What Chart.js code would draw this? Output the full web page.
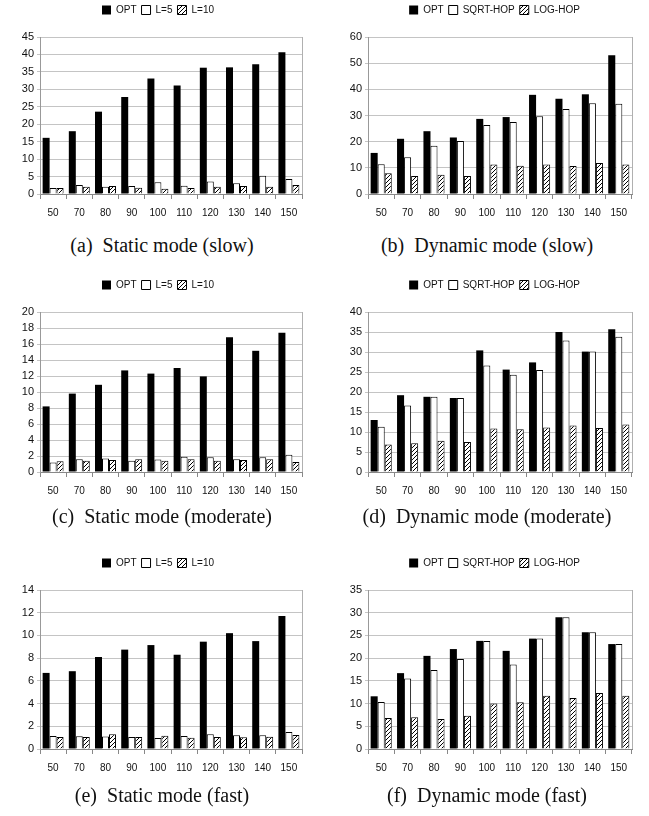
<!DOCTYPE html>
<html>
<head>
<meta charset="utf-8">
<script src="https://cdn.jsdelivr.net/npm/chart.js@4/dist/chart.umd.min.js"></script>
<style>
  body { margin: 0; background: #fff; }
  #page { position: relative; width: 649px; height: 816px; overflow: hidden; }
  .panel { position: absolute; }
  .caption { position: absolute; width: 324px; text-align: center; font-family: "Liberation Serif", serif; font-size: 20px; line-height: 24px; color: #111; white-space: pre; }
</style>
</head>
<body>
<div id="page"></div>
<script>
const categories = ['50', '70', '80', '90', '100', '110', '120', '130', '140', '150'];

const staticLabels = ['OPT', 'L=5', 'L=10'];
const dynamicLabels = ['OPT', 'SQRT-HOP', 'LOG-HOP'];

// (a) static slow
const staticSlowOpt = [16.1, 18, 23.6, 27.8, 33.1, 31.1, 36.2, 36.3, 37.2, 40.6];
const staticSlowL5 = [1.7, 2.6, 2.1, 2.3, 3.4, 2.4, 3.6, 3.1, 5.2, 4.3];
const staticSlowL10 = [1.7, 2.1, 2.3, 1.8, 1.5, 1.7, 2.1, 2.3, 2.1, 2.6];

// (b) dynamic slow
const dynSlowOpt = [15.7, 21.1, 24, 21.6, 28.7, 29.4, 37.9, 36.4, 38.1, 53];
const dynSlowSqrt = [11.4, 14, 18.4, 20.3, 26.4, 27.5, 29.7, 32.5, 34.7, 34.5];
const dynSlowLog = [7.9, 6.9, 7.4, 6.9, 11.3, 10.8, 11.3, 10.7, 11.8, 11.3];

// (c) static moderate
const staticModOpt = [8.2, 9.8, 10.9, 12.7, 12.3, 13, 11.95, 16.85, 15.15, 17.4];
const staticModL5 = [1.2, 1.6, 1.7, 1.4, 1.55, 1.9, 1.85, 1.6, 1.85, 2.15];
const staticModL10 = [1.35, 1.4, 1.5, 1.6, 1.4, 1.6, 1.4, 1.5, 1.6, 1.25];

// (d) dynamic moderate
const dynModOpt = [13, 19.2, 18.8, 18.5, 30.4, 25.6, 27.4, 35, 30.1, 35.7];
const dynModSqrt = [11.3, 16.6, 18.8, 18.5, 26.6, 24.3, 25.5, 32.9, 30.1, 33.8];
const dynModLog = [6.9, 7.2, 7.8, 7.5, 10.9, 10.7, 11.1, 11.6, 11, 11.85];

// (e) static fast
const staticFastOpt = [6.7, 6.85, 8.1, 8.75, 9.15, 8.3, 9.45, 10.2, 9.5, 11.7];
const staticFastL5 = [1.15, 1.12, 1.1, 1.05, 0.97, 1.15, 1.3, 1.2, 1.2, 1.5];
const staticFastL10 = [1.05, 1.05, 1.3, 1.05, 1.17, 1.0, 1.05, 1.03, 1.08, 1.23];

// (f) dynamic fast
const dynFastOpt = [11.6, 16.7, 20.5, 22, 23.8, 21.6, 24.3, 29, 25.7, 23.1];
const dynFastSqrt = [10.35, 15.5, 17.4, 19.8, 23.8, 18.6, 24.3, 29, 25.7, 23.1];
const dynFastLog = [6.8, 7.0, 6.6, 7.3, 10.0, 10.3, 11.7, 11.2, 12.3, 11.7];

// y axis ranges
const yMax = [45, 60, 20, 40, 14, 35];
const yStep = [5, 10, 2, 5, 2, 5];

const captions = [
    '(a)  Static mode (slow)', '(b)  Dynamic mode (slow)',
    '(c)  Static mode (moderate)', '(d)  Dynamic mode (moderate)',
    '(e)  Static mode (fast)', '(f)  Dynamic mode (fast)'
];

const panels = [
    { labels: staticLabels, series: [staticSlowOpt, staticSlowL5, staticSlowL10] },
    { labels: dynamicLabels, series: [dynSlowOpt, dynSlowSqrt, dynSlowLog] },
    { labels: staticLabels, series: [staticModOpt, staticModL5, staticModL10] },
    { labels: dynamicLabels, series: [dynModOpt, dynModSqrt, dynModLog] },
    { labels: staticLabels, series: [staticFastOpt, staticFastL5, staticFastL10] },
    { labels: dynamicLabels, series: [dynFastOpt, dynFastSqrt, dynFastLog] }
];

// row placement: canvas top, canvas height, caption centre
const rows = [
    { top: 0, height: 227, caption: 245 },
    { top: 275, height: 230, caption: 516 },
    { top: 553, height: 229, caption: 795 }
];

function makeHatch() {
    const c = document.createElement('canvas');
    c.width = 4; c.height = 4;
    const g = c.getContext('2d');
    g.fillStyle = '#fff';
    g.fillRect(0, 0, 4, 4);
    g.strokeStyle = '#000';
    g.lineWidth = 1;
    g.beginPath();
    g.moveTo(0, 4); g.lineTo(4, 0);
    g.moveTo(-1, 1); g.lineTo(1, -1);
    g.moveTo(3, 5); g.lineTo(5, 3);
    g.stroke();
    return g.createPattern(c, 'repeat');
}
const hatch = makeHatch();

// extra room under the legend, and a small sideways nudge of it
const legendGap = {
    id: 'legendGap',
    beforeInit(chart) {
        const fit = chart.legend.fit;
        chart.legend.fit = function () {
            fit.call(this);
            this.height += 12;
        };
    },
    afterLayout(chart, args, opts) {
        const lg = chart.legend;
        lg.left += opts.shift;
        lg.right += opts.shift;
    }
};

const rightEdge = {
    id: 'rightEdge',
    afterDatasetsDraw(chart) {
        const { ctx, chartArea } = chart;
        ctx.save();
        ctx.strokeStyle = '#b0b0b0';
        ctx.lineWidth = 1;
        ctx.beginPath();
        ctx.moveTo(Math.round(chartArea.right) + 0.5, chartArea.top);
        ctx.lineTo(Math.round(chartArea.right) + 0.5, chartArea.bottom);
        ctx.stroke();
        ctx.restore();
    }
};

const page = document.getElementById('page');
const font = 'Liberation Sans, Arial, sans-serif';

panels.forEach((p, i) => {
    const col = i % 2;
    const row = rows[Math.floor(i / 2)];
    const left = col === 0 ? 0 : 325;
    const width = col === 0 ? 325 : 324;

    const div = document.createElement('div');
    div.className = 'panel';
    div.style.left = left + 'px';
    div.style.top = row.top + 'px';
    div.style.width = width + 'px';
    div.style.height = row.height + 'px';
    const canvas = document.createElement('canvas');
    div.appendChild(canvas);
    page.appendChild(div);

    const cap = document.createElement('div');
    cap.className = 'caption';
    cap.style.left = left + 'px';
    cap.style.top = (row.caption - 12) + 'px';
    cap.textContent = captions[i];
    page.appendChild(cap);

    const fills = ['#000', '#fff', hatch];
    new Chart(canvas, {
        type: 'bar',
        data: {
            labels: categories,
            datasets: p.series.map((s, k) => ({
                label: p.labels[k],
                data: s,
                backgroundColor: fills[k],
                borderColor: '#000',
                borderWidth: k === 0 ? 0 : 1,
                categoryPercentage: 0.8,
                barPercentage: 1.0
            }))
        },
        options: {
            responsive: true,
            maintainAspectRatio: false,
            animation: false,
            layout: { padding: { left: 0, right: col === 0 ? 23 : 17, top: 0, bottom: 0 } },
            plugins: {
                legendGap: { shift: col === 0 ? 7 : 16 },
                legend: {
                    position: 'top',
                    labels: {
                        boxWidth: 9,
                        boxHeight: 9,
                        padding: 5,
                        color: '#111',
                        font: { family: font, size: 10 }
                    }
                },
                tooltip: { enabled: false }
            },
            scales: {
                x: {
                    grid: { offset: true, drawOnChartArea: false, tickLength: 5, color: '#888' },
                    border: { color: '#888' },
                    ticks: { color: '#111', font: { family: font, size: 10 }, padding: 8, maxRotation: 0 }
                },
                y: {
                    min: 0,
                    max: yMax[i],
                    afterFit(scale) { scale.width = col === 0 ? 40 : 43; },
                    grid: { color: '#c4c4c4', tickLength: 3 },
                    border: { color: '#999' },
                    ticks: { stepSize: yStep[i], autoSkip: false, color: '#111', font: { family: font, size: 11 }, padding: 3 }
                }
            }
        },
        plugins: [legendGap, rightEdge]
    });
});
</script>
</body>
</html>
